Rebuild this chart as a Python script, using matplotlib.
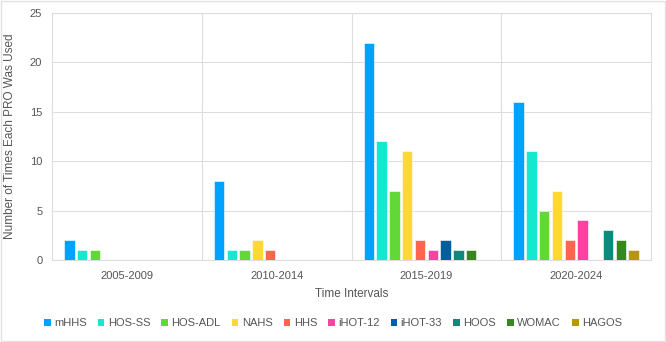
import matplotlib
matplotlib.use("Agg")
import matplotlib.pyplot as plt
import numpy as np

categories = ["2005-2009", "2010-2014", "2015-2019", "2020-2024"]
series_names = ["mHHS", "HOS-SS", "HOS-ADL", "NAHS", "HHS", "iHOT-12", "iHOT-33", "HOOS", "WOMAC", "HAGOS"]
mHHS = [2, 8, 22, 16]
HOS_SS = [1, 1, 12, 11]
HOS_ADL = [1, 1, 7, 5]
NAHS = [0, 2, 11, 7]
HHS = [0, 1, 2, 2]
iHOT_12 = [0, 0, 1, 4]
iHOT_33 = [0, 0, 2, 0]
HOOS = [0, 0, 1, 3]
WOMAC = [0, 0, 1, 2]
HAGOS = [0, 0, 0, 1]
values = [mHHS, HOS_SS, HOS_ADL, NAHS, HHS, iHOT_12, iHOT_33, HOOS, WOMAC, HAGOS]
colors = ["#00A2FF", "#16E7CF", "#61D836", "#FFD932", "#FF644E",
          "#FF42A1", "#005F9E", "#0E8A7C", "#36881E", "#B8960C"]

plt.rcParams['font.family'] = ['Liberation Sans', 'DejaVu Sans']
txt = "#555555"
grid = "#DDDDDD"

fig = plt.figure(figsize=(6.66, 3.42), dpi=100)
ax = fig.add_axes([52/666, 1 - 260/342, 599/666, 247/342])

n = len(series_names)
x = np.arange(len(categories))
slot = 0.853 / n
bw = slot * 0.82
for i, (name, vals, c) in enumerate(zip(series_names, values, colors)):
    off = (i - (n - 1) / 2) * slot
    ax.bar(x + off, vals, width=bw, color=c, label=name, edgecolor="white", linewidth=0.4, zorder=3)

ax.set_xlim(-0.5, len(categories) - 0.5)
ax.set_ylim(0, 25)
ax.set_yticks(range(0, 26, 5))
ax.set_xticks(x)
ax.set_xticklabels(categories)
for b in np.arange(0.5, len(categories) - 0.5, 1):
    ax.axvline(b, color=grid, lw=0.8, zorder=1)
ax.yaxis.grid(True, color=grid, lw=0.8, zorder=1)
for s in ax.spines.values():
    s.set_color(grid)
    s.set_linewidth(0.8)
ax.tick_params(axis='both', length=0, colors=txt, labelsize=8)
ax.tick_params(axis='x', pad=8)
ax.tick_params(axis='y', pad=7)
ax.set_xlabel("Time Intervals", color=txt, fontsize=8.5, labelpad=5)
ax.set_ylabel("Number of Times Each PRO Was Used", color=txt, fontsize=8.5, labelpad=10)

leg = fig.legend(loc="center", bbox_to_anchor=(0.5, 1 - 323/342), ncol=n, frameon=False,
                 fontsize=8, handlelength=0.6, handleheight=0.6, handletextpad=0.3,
                 columnspacing=1.0, labelcolor=txt)
for h in leg.legend_handles:
    h.set_edgecolor("none")

fig.patches.append(plt.Rectangle((0.002, 0.003), 0.996, 0.994, transform=fig.transFigure,
                                 fill=False, edgecolor="#E2E2E2", lw=1))
fig.savefig("out.png", dpi=100)
